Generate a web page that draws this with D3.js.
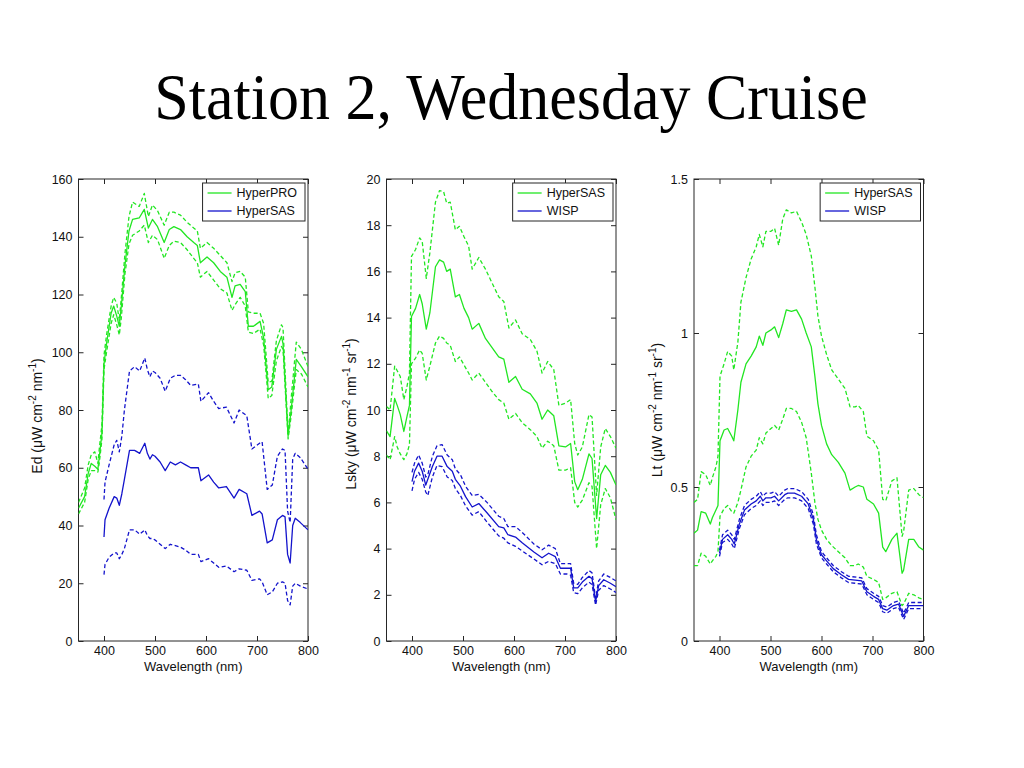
<!DOCTYPE html>
<html>
<head>
<meta charset="utf-8">
<script src="https://cdn.jsdelivr.net/npm/d3@7"></script>
<style>
  html, body { margin: 0; padding: 0; background: #ffffff; }
  svg { display: block; }
</style>
</head>
<body>
<svg id="chart" width="1024" height="768"></svg>
<script>
// ---------------- DATA ----------------
const titleText = "Station 2, Wednesday Cruise";
const xTickValues = [400, 500, 600, 700, 800];

// Panel 1: Ed
const edYTicks = [0, 20, 40, 60, 80, 100, 120, 140, 160];
const edLegend = ["HyperPRO", "HyperSAS"];
const wlEdPro = [350,362,369,375,382,388,391,396,400,405,414,419,425,430,434,441,449,456,469,479,487,495,505,518,528,537,550,563,576,583,589,602,615,628,641,651,657,667,677,683,693,706,713,722,729,738,748,751,761,767,777,787,800];
const edProMean = [46,50,58,61.5,60.5,59.5,64,72,96,103,113.5,116,112.5,109,116,130,142,146,146.5,149.5,143,146,143.5,138,142.5,143.5,142.5,140,138,137,131,133,131,128,126,119,123,123.5,121,109,109,110.7,105,87,88,101,105.5,103,71,80,97.5,95,91.5];
const edProHigh = [48,53,61,64.5,65.5,61.5,67,75,99,106,116,119,117,111,119,134,147,152,150.5,155,147,151,149,144,148.5,148.5,147.5,145,143,142,136,138,136,133.5,131,124.5,127.5,128,126,114,113.5,113.5,110,89.5,90,104,109.5,108.5,71.5,84,103.5,101,95];
const edProLow = [44,48,56,59,59,58.5,62,70,94,100,110,113,109.5,106,112,127,137.5,140.5,142,144,138,140.5,139,132.5,137,138.5,138,135.5,132.5,131,126,128,125,122,120.5,114.5,116.5,119,116,107,106.5,108,102.5,84,85,97,102,101,70,78,94,92.5,88];
const wlEdSas = [400,402,410,420,425,430,435,440,450,460,470,480,485,490,495,500,510,520,530,540,550,560,570,585,590,605,615,625,640,655,665,680,690,705,710,720,730,740,750,755,760,765,770,775,785,800];
const edSasMean = [36,42,46,50,49.5,47,51,56,66,66,65,68.5,65,63,64.5,64,62,59,62,61,62,61,60,60,55.5,57.5,55,53,53.5,49.5,52.5,51,43.5,45,44,34,35,42,43.5,43,30,27,40,42.5,41,38.5];
const edSasHigh = [49,55,61,68,69.5,65.5,71,80,93.5,95,93.5,98,94,91.5,93.5,93,91,86.5,91,92,92,90.5,88.5,89,83,86,83,80.5,81,75.5,80,78,66.5,68.5,69,52.5,54,64,66.5,66,45,41,63,65,63.5,59.5];
const edSasLow = [23,26.5,29,30.5,30.5,28.5,30,32,38.5,38.5,37,38.5,36.5,35.5,35.5,35,33.5,32,33.5,33,32.5,31.5,30,30,27.5,28.5,27,25.5,26,24,25,24.5,21,21.5,20.5,16,17,20,20.5,20,14,12.5,19,20,19,18];

// Panel 2: Lsky
const lskyYTicks = [0, 2, 4, 6, 8, 10, 12, 14, 16, 18, 20];
const lskyLegend = ["HyperSAS", "WISP"];
const wlLskySas = [350,357,366,371,377,384,390,395,399,407,415,420,428,435,446,454,462,468,475,485,493,502,511,518,531,544,557,570,580,590,603,616,632,645,655,666,678,688,701,711,719,725,734,747,753,762,770,779,789,800];
const lskySasMean = [9.1,8.85,10.5,10.2,9.8,9.07,9.7,10.2,14.05,14.4,15.0,14.6,13.5,14.2,16.2,16.5,16.4,16.0,16.1,14.9,15.0,14.4,14.0,13.5,13.75,13.1,12.7,12.3,12.2,11.2,11.45,10.9,10.7,10.3,9.6,10.0,9.75,8.45,8.4,8.55,6.9,6.55,7.0,8.1,7.9,5.3,7.2,7.6,7.3,6.75];
const lskySasHigh = [10.15,10.0,11.9,11.7,11.45,10.45,11.0,11.6,16.65,16.95,17.45,17.3,15.7,16.8,19.0,19.5,19.45,18.95,19.0,17.8,17.95,17.5,17.1,16.1,16.6,16.1,15.5,14.9,14.7,13.55,13.9,13.3,13.05,12.55,11.6,12.1,11.75,10.2,10.3,10.45,8.55,8.05,8.4,9.8,9.7,6.3,8.4,9.2,8.85,8.35];
const lskySasLow = [8.05,7.85,8.85,8.4,8.1,7.85,8.1,8.5,12.0,12.25,12.6,12.45,11.3,11.9,12.9,13.2,13.1,12.9,12.8,12.1,12.3,11.95,11.6,11.3,11.6,11.2,10.8,10.45,10.3,9.6,9.85,9.45,9.15,8.85,8.35,8.65,8.45,7.4,7.4,7.5,6.0,5.8,6.1,6.85,6.7,4.0,5.9,6.6,6.2,5.25];
const wlLskyWisp = [400,405,413,420,427,431,440,449,459,469,479,485,495,505,518,531,547,570,580,588,603,616,639,655,668,681,691,704,711,717,725,734,747,753,760,766,776,789,800];
const lskyWispMean = [6.9,7.35,7.7,7.35,6.75,7.0,7.55,8.0,8.0,7.55,7.35,7.0,6.7,6.25,5.8,5.95,5.55,4.95,4.9,4.6,4.5,4.25,3.85,3.6,3.8,3.65,3.15,3.15,3.15,2.3,2.3,2.55,2.8,2.7,1.7,2.4,2.65,2.5,2.35];
const lskyWispHigh = [7.3,7.7,8.05,7.7,7.1,7.2,8.0,8.45,8.5,8.05,7.85,7.45,7.2,6.7,6.3,6.35,6.0,5.4,5.3,4.95,4.95,4.7,4.2,3.95,4.15,4.0,3.35,3.35,3.35,2.5,2.45,2.75,3.05,2.95,1.85,2.6,2.9,2.75,2.6];
const lskyWispLow = [6.5,7.0,7.3,7.0,6.45,6.3,7.1,7.6,7.55,7.1,6.95,6.6,6.3,5.85,5.45,5.6,5.15,4.55,4.45,4.25,4.1,3.9,3.55,3.3,3.45,3.35,2.9,2.9,2.85,2.1,2.05,2.3,2.55,2.45,1.55,2.2,2.4,2.25,2.1];

// Panel 3: Lt
const ltYTicks = [0, 0.5, 1, 1.5];
const ltLegend = ["HyperSAS", "WISP"];
const wlLtSas = [350,357,364,373,382,386,393,397,401,409,416,424,428,436,442,452,462,472,478,485,491,501,508,516,524,531,541,551,561,570,580,587,593,600,610,620,633,646,656,666,672,682,689,702,712,720,726,738,748,758,761,771,781,791,800];
const ltSasMean = [0.35,0.36,0.42,0.415,0.38,0.40,0.425,0.44,0.65,0.685,0.69,0.665,0.65,0.75,0.84,0.90,0.925,0.955,0.99,0.96,1.0,1.01,1.02,0.985,1.03,1.075,1.07,1.075,1.045,1.0,0.955,0.86,0.77,0.70,0.64,0.605,0.58,0.545,0.49,0.50,0.505,0.50,0.46,0.445,0.415,0.305,0.29,0.33,0.35,0.22,0.23,0.33,0.33,0.305,0.295];
const ltSasHigh = [0.45,0.46,0.55,0.54,0.505,0.53,0.565,0.60,0.86,0.90,0.94,0.925,0.88,0.97,1.10,1.18,1.24,1.28,1.32,1.28,1.33,1.33,1.34,1.285,1.37,1.40,1.39,1.395,1.36,1.32,1.25,1.15,1.055,0.99,0.93,0.88,0.85,0.82,0.76,0.76,0.765,0.745,0.665,0.65,0.62,0.46,0.455,0.52,0.53,0.34,0.355,0.49,0.495,0.475,0.465];
const ltSasLow = [0.245,0.245,0.285,0.275,0.25,0.26,0.275,0.29,0.405,0.43,0.44,0.42,0.415,0.45,0.49,0.565,0.60,0.62,0.66,0.64,0.675,0.69,0.70,0.685,0.72,0.755,0.755,0.745,0.71,0.66,0.545,0.45,0.395,0.36,0.33,0.31,0.29,0.27,0.245,0.245,0.25,0.24,0.21,0.20,0.19,0.135,0.14,0.155,0.16,0.115,0.12,0.155,0.15,0.14,0.135];
const wlLtWisp = [400,406,416,424,429,439,449,462,472,480,485,491,501,508,516,528,534,547,561,574,584,590,600,610,623,639,653,679,689,702,712,720,728,741,751,761,771,784,800];
const ltWispMean = [0.285,0.33,0.345,0.33,0.315,0.38,0.425,0.445,0.455,0.47,0.455,0.465,0.465,0.47,0.455,0.475,0.48,0.48,0.47,0.445,0.395,0.33,0.28,0.26,0.235,0.215,0.20,0.195,0.16,0.145,0.135,0.105,0.10,0.115,0.12,0.08,0.115,0.115,0.115];
const ltWispHigh = [0.295,0.345,0.36,0.345,0.33,0.395,0.44,0.46,0.47,0.485,0.47,0.48,0.48,0.485,0.47,0.49,0.495,0.495,0.485,0.46,0.41,0.345,0.29,0.27,0.245,0.225,0.21,0.205,0.17,0.155,0.145,0.115,0.11,0.125,0.13,0.09,0.125,0.125,0.125];
const ltWispLow = [0.275,0.32,0.33,0.315,0.30,0.365,0.41,0.43,0.44,0.455,0.44,0.45,0.45,0.455,0.44,0.46,0.465,0.465,0.455,0.43,0.38,0.315,0.27,0.25,0.225,0.205,0.19,0.185,0.15,0.135,0.125,0.095,0.09,0.105,0.11,0.07,0.105,0.105,0.105];

// ---------------- STYLE / LAYOUT ----------------
const GREEN = "#22e622";
const BLUE = "#1414cc";
const AXIS = "#262626";
const TOP = 179, BOTTOM = 641;

const panels = [
  { x0: 78.5, x1: 308, yMax: 160, yTicks: edYTicks, legend: edLegend, labelX: 42, labelShift: 6,
    label: [["Ed (\u03BCW cm"], ["-2", 1], [" nm"], ["-1", 1], [")"]],
    series: [
      [wlEdPro, edProHigh, GREEN, true], [wlEdPro, edProLow, GREEN, true], [wlEdPro, edProMean, GREEN, false],
      [wlEdSas, edSasHigh, BLUE, true], [wlEdSas, edSasLow, BLUE, true], [wlEdSas, edSasMean, BLUE, false]
    ] },
  { x0: 386.5, x1: 616, yMax: 20, yTicks: lskyYTicks, legend: lskyLegend, labelX: 356, labelShift: 4,
    label: [["Lsky (\u03BCW cm"], ["-2", 1], [" nm"], ["-1", 1], [" sr"], ["-1", 1], [")"]],
    series: [
      [wlLskySas, lskySasHigh, GREEN, true], [wlLskySas, lskySasLow, GREEN, true], [wlLskySas, lskySasMean, GREEN, false],
      [wlLskyWisp, lskyWispHigh, BLUE, true], [wlLskyWisp, lskyWispLow, BLUE, true], [wlLskyWisp, lskyWispMean, BLUE, false]
    ] },
  { x0: 694, x1: 923.5, yMax: 1.5, yTicks: ltYTicks, legend: ltLegend, labelX: 662, labelShift: 0,
    label: [["Lt (\u03BCW cm"], ["-2", 1], [" nm"], ["-1", 1], [" sr"], ["-1", 1], [")"]],
    series: [
      [wlLtSas, ltSasHigh, GREEN, true], [wlLtSas, ltSasLow, GREEN, true], [wlLtSas, ltSasMean, GREEN, false],
      [wlLtWisp, ltWispHigh, BLUE, true], [wlLtWisp, ltWispLow, BLUE, true], [wlLtWisp, ltWispMean, BLUE, false]
    ] }
];

const svg = d3.select("#chart");
const FONT = "'Liberation Sans', Arial, Helvetica, sans-serif";

svg.append("text")
  .attr("transform", "translate(511,119) scale(1,1.07)")
  .attr("text-anchor", "middle")
  .attr("font-family", "'Liberation Serif', 'Times New Roman', serif")
  .attr("font-size", 62)
  .attr("fill", "#000")
  .text(titleText);

const defs = svg.append("defs");

panels.forEach((p, i) => {
  const x = d3.scaleLinear().domain([350, 800]).range([p.x0, p.x1]);
  const y = d3.scaleLinear().domain([0, p.yMax]).range([BOTTOM, TOP]);
  const g = svg.append("g");

  defs.append("clipPath").attr("id", "clip" + i)
    .append("rect").attr("x", p.x0).attr("y", TOP).attr("width", p.x1 - p.x0).attr("height", BOTTOM - TOP);

  const styleAxis = sel => {
    sel.select(".domain").remove();
    sel.selectAll(".tick line").attr("stroke", AXIS);
    sel.selectAll("text").attr("font-family", FONT).attr("font-size", 12.5).attr("fill", "#111");
  };
  const fmt = d => String(d);
  g.append("g").attr("transform", `translate(0,${BOTTOM})`)
    .call(d3.axisBottom(x).tickValues(xTickValues).tickFormat(fmt).tickSizeInner(-5).tickSizeOuter(0).tickPadding(5))
    .call(styleAxis);
  g.append("g").attr("transform", `translate(0,${TOP})`)
    .call(d3.axisTop(x).tickValues(xTickValues).tickSizeInner(-5).tickSizeOuter(0).tickFormat(""))
    .call(styleAxis);
  g.append("g").attr("transform", `translate(${p.x0},0)`)
    .call(d3.axisLeft(y).tickValues(p.yTicks).tickFormat(fmt).tickSizeInner(-5).tickSizeOuter(0).tickPadding(6))
    .call(styleAxis);
  g.append("g").attr("transform", `translate(${p.x1},0)`)
    .call(d3.axisRight(y).tickValues(p.yTicks).tickSizeInner(-5).tickSizeOuter(0).tickFormat(""))
    .call(styleAxis);

  g.append("rect")
    .attr("x", p.x0).attr("y", TOP).attr("width", p.x1 - p.x0).attr("height", BOTTOM - TOP)
    .attr("fill", "none").attr("stroke", AXIS).attr("stroke-width", 1);

  const line = d3.line().x(d => x(d[0])).y(d => y(d[1]));
  const lg = g.append("g").attr("clip-path", `url(#clip${i})`);
  p.series.forEach(([wl, vals, color, dashed]) => {
    lg.append("path")
      .datum(d3.zip(wl, vals))
      .attr("d", line)
      .attr("fill", "none")
      .attr("stroke", color)
      .attr("stroke-width", 1.3)
      .attr("stroke-linejoin", "round")
      .attr("stroke-dasharray", dashed ? "4,2.5" : null);
  });

  g.append("text")
    .attr("x", (p.x0 + p.x1) / 2).attr("y", 671)
    .attr("text-anchor", "middle")
    .attr("font-family", FONT).attr("font-size", 13).attr("fill", "#111")
    .text("Wavelength (nm)");

  const yl = g.append("text")
    .attr("transform", `translate(${p.labelX},${(TOP + BOTTOM) / 2 + p.labelShift}) rotate(-90)`)
    .attr("text-anchor", "middle")
    .attr("font-family", FONT).attr("font-size", 14).attr("fill", "#111");
  let raised = false;
  p.label.forEach(([t, sup]) => {
    const ts = yl.append("tspan").text(t);
    if (sup) { ts.attr("font-size", 10).attr("dy", -6); raised = true; }
    else if (raised) { ts.attr("dy", 6); raised = false; }
  });

  const lgd = g.append("g");
  const texts = p.legend.map((name, k) => lgd.append("text")
    .attr("font-family", FONT).attr("font-size", 12.5).attr("fill", "#111")
    .attr("y", 197 + k * 18).text(name));
  const maxW = d3.max(texts, t => t.node().getComputedTextLength());
  const boxW = 34 + maxW + 8;
  const bx = p.x1 - 3 - boxW;
  lgd.insert("rect", ":first-child")
    .attr("x", bx).attr("y", 183).attr("width", boxW).attr("height", 38)
    .attr("fill", "#fff").attr("stroke", AXIS).attr("stroke-width", 1);
  texts.forEach(t => t.attr("x", bx + 34));
  [GREEN, BLUE].forEach((c, k) => {
    lgd.append("line")
      .attr("x1", bx + 5).attr("x2", bx + 29)
      .attr("y1", 193 + k * 18).attr("y2", 193 + k * 18)
      .attr("stroke", c).attr("stroke-width", 1.3);
  });
});
</script>
</body>
</html>
